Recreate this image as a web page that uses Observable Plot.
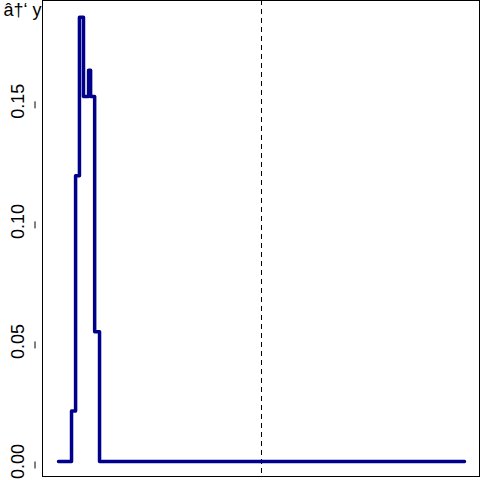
<!DOCTYPE html>
<html>
<head>
<script src="https://cdn.jsdelivr.net/npm/d3@7"></script>
<script src="https://cdn.jsdelivr.net/npm/@observablehq/plot@0.6"></script>
<style>body{margin:0;background:#fff;font-family:"Liberation Sans",Arial,sans-serif;}</style>
</head>
<body>
<div id="chart"></div>
<script>
// step curve positions and heights
let xs = [-1, -0.936, -0.916, -0.897, -0.877, -0.852, -0.842, -0.822, -0.798, 1];
let ys = [0, 0.021, 0.119, 0.185, 0.152, 0.163, 0.152, 0.054, 0, 0];
let yTicks = [0, 0.05, 0.10, 0.15];

let data = xs.map((x, i) => ({x: x, y: ys[i]}));

let plot = Plot.plot({
    width: 480,
    height: 480,
    marginLeft: 42,
    marginRight: 1,
    marginTop: 0,
    marginBottom: 4,
    x: {domain: [-1.079, 1.074], axis: null},
    y: {domain: [-0.00625, 0.192]},
    style: {fontFamily: "Liberation Sans, Arial, sans-serif"},
    marks: [
        Plot.frame({stroke: "black"}),
        Plot.axisY({ticks: yTicks, tickFormat: d3.format(".2f"), tickSize: 7, fontSize: 18,
            textAnchor: "middle", rotate: -90, dx: -7, tickPadding: 10, color: "black"}),
        Plot.ruleX([0], {stroke: "black", strokeDasharray: "5,4"}),
        Plot.line(data, {x: "x", y: "y", curve: "step-after", stroke: "#00008b", strokeWidth: 3.5})
    ]
});

document.getElementById('chart').append(plot);
</script>
</body>
</html>
